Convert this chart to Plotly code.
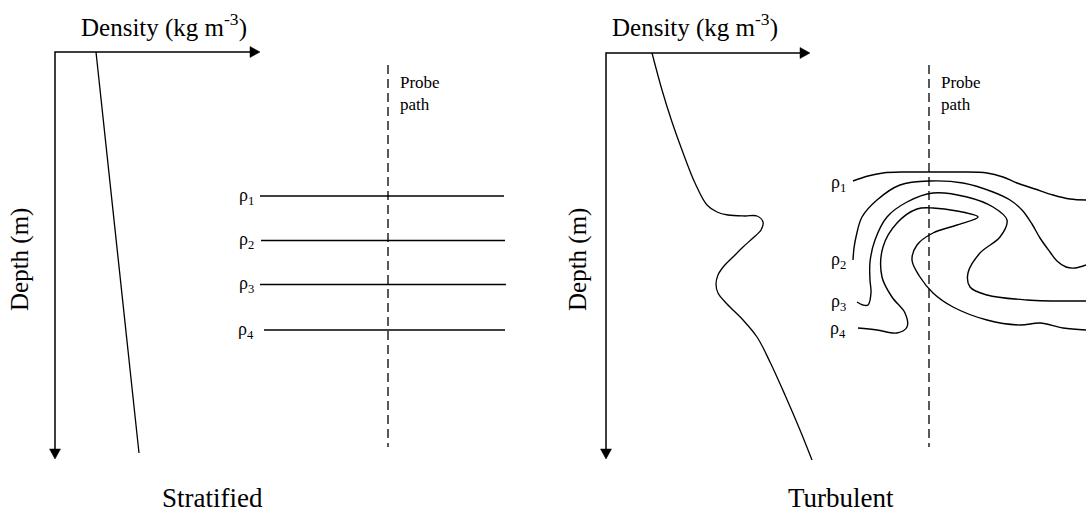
import plotly.graph_objects as go

W, H = 1086, 515
FONT = "Liberation Serif"

# ---------------- data (in image units) ----------------
# Left panel (Stratified)
strat_axis_x = [55, 55, 250]          # vertical axis bottom -> origin -> horizontal axis
strat_axis_y = [449, 52, 52]
strat_profile_x = [96, 139]
strat_profile_y = [52, 453]
strat_probe_x = [388, 388]
strat_probe_y = [65, 447]
strat_layer_levels = [196, 240.5, 284.5, 330]
strat_layer_start = [260, 261, 260, 264]
strat_layer_end = [504, 505, 506, 505]
strat_labels = ["ρ<sub>1</sub>", "ρ<sub>2</sub>", "ρ<sub>3</sub>", "ρ<sub>4</sub>"]

# Right panel (Turbulent)
turb_axis_x = [606, 606, 800]
turb_axis_y = [449, 53, 53]
turb_profile_x = [652, 662, 672, 682, 695, 707, 717, 728, 745, 757, 763, 761, 753, 743,
                  733, 724, 718, 716, 718, 727, 743, 757, 770, 785, 800, 812]
turb_profile_y = [53, 90, 122, 150, 183, 205, 212, 215, 216, 216, 222, 230, 238, 247,
                  257, 266, 275, 284, 293, 304, 320, 337, 362, 395, 430, 460]
turb_probe_x = [929, 929]
turb_probe_y = [65, 447]

rho1_x = [853, 868, 883, 905, 930, 960, 987, 1003, 1017, 1035, 1053, 1070, 1086]
rho1_y = [181, 176, 173, 172, 172, 172, 173, 177, 183, 189, 195, 199, 200]
rho2_x = [853, 854, 856, 862, 877, 900, 930, 963, 993, 1010, 1022, 1032, 1040, 1050, 1057, 1066, 1075, 1086]
rho2_y = [260, 248, 237, 217, 200, 185, 181, 183, 192, 200, 210, 224, 238, 252, 261, 267, 268, 265]
rho3_x = [857, 863, 868, 871, 870, 870, 875, 887, 907, 933, 967, 993, 1007, 1000, 980, 968, 970, 987, 1027, 1086]
rho3_y = [302, 305, 305, 293, 280, 262, 240, 217, 202, 193, 197, 207, 220, 237, 253, 273, 287, 295, 300, 301]
rho4_x = [858, 877, 897, 907, 905, 892, 882, 883, 897, 917, 933, 957, 978, 957, 933, 917,
          912, 920, 933, 953, 987, 1020, 1040, 1063, 1086]
rho4_y = [328, 330, 333, 327, 313, 297, 277, 247, 223, 209, 208, 211, 217, 225, 233, 245,
          260, 277, 293, 307, 320, 325, 323, 328, 330]
turb_label_y = [183, 260, 302, 329]

# ---------------- figure ----------------
fig = go.Figure()


def add_line(x, y, shape="linear", dash=None, width=1.4):
    fig.add_trace(go.Scatter(x=x, y=y, mode="lines",
                             line=dict(color="black", width=width, shape=shape, dash=dash,
                                       smoothing=1.0 if shape == "spline" else None),
                             hoverinfo="skip", showlegend=False))


def add_arrowheads(ax, ay):
    # arrowheads derived from the axis end points
    L, hw = 10, 5.5
    tx, ty = ax[-1], ay[-1]
    fig.add_trace(go.Scatter(x=[tx, tx + L, tx, tx], y=[ty - hw, ty, ty + hw, ty - hw],
                             mode="lines", fill="toself", fillcolor="black",
                             line=dict(color="black", width=0.5), hoverinfo="skip", showlegend=False))
    bx, by = ax[0], ay[0]
    fig.add_trace(go.Scatter(x=[bx - hw, bx, bx + hw, bx - hw], y=[by, by + L, by, by],
                             mode="lines", fill="toself", fillcolor="black",
                             line=dict(color="black", width=0.5), hoverinfo="skip", showlegend=False))


# Left panel
add_line(strat_axis_x, strat_axis_y, width=1.5)
add_arrowheads(strat_axis_x, strat_axis_y)
add_line(strat_profile_x, strat_profile_y, width=1.3)
add_line(strat_probe_x, strat_probe_y, dash="9px,5px", width=1.3)
for lvl, x0, x1 in zip(strat_layer_levels, strat_layer_start, strat_layer_end):
    add_line([x0, x1], [lvl, lvl], width=1.5)

# Right panel
add_line(turb_axis_x, turb_axis_y, width=1.5)
add_arrowheads(turb_axis_x, turb_axis_y)
add_line(turb_profile_x, turb_profile_y, shape="spline", width=1.3)
add_line(turb_probe_x, turb_probe_y, dash="9px,5px", width=1.3)
for xs, ys in [(rho1_x, rho1_y), (rho2_x, rho2_y), (rho3_x, rho3_y), (rho4_x, rho4_y)]:
    add_line(xs, ys, shape="spline", width=1.4)

# ---------------- text ----------------
ann = []


def text(x, y, t, size, xanchor="center", yanchor="middle", angle=0):
    ann.append(dict(x=x, y=y, text=t, showarrow=False, xref="x", yref="y",
                    xanchor=xanchor, yanchor=yanchor, textangle=angle,
                    font=dict(family=FONT, size=size, color="black")))


text(164, 25, "Density (kg m<sup>-3</sup>)", 25)
text(695, 25, "Density (kg m<sup>-3</sup>)", 25)
text(20, 260, "Depth (m)", 25, angle=-90)
text(578, 260, "Depth (m)", 25, angle=-90)
text(212, 498, "Stratified", 27)
text(841, 498, "Turbulent", 27)
for xp in (strat_probe_x[0] + 10, turb_probe_x[0] + 10):
    text(xp, 82, "Probe", 17, xanchor="left")
    text(xp, 104, "path", 17, xanchor="left")
for lvl, lab in zip(strat_layer_levels, strat_labels):
    text(246, lvl, lab, 18)
for lvl, lab in zip(turb_label_y, strat_labels):
    text(838, lvl, lab, 18)

fig.update_layout(
    width=W, height=H, margin=dict(l=0, r=0, t=0, b=0),
    paper_bgcolor="white", plot_bgcolor="white",
    xaxis=dict(range=[0, W], visible=False, fixedrange=True),
    yaxis=dict(range=[H, 0], visible=False, fixedrange=True),
    annotations=ann, showlegend=False,
)
fig.write_html("out.html")
